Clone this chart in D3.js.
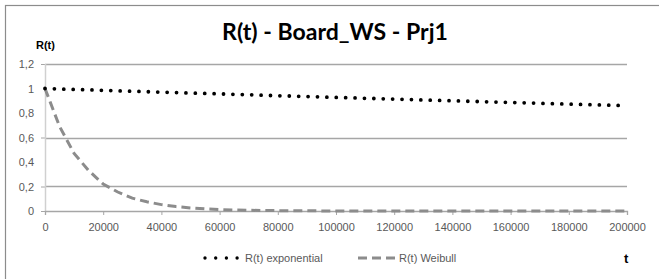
<!DOCTYPE html>
<html><head><meta charset="utf-8">
<script src="https://cdn.jsdelivr.net/npm/d3@7"></script>
<style>html,body{margin:0;padding:0;background:#fff;overflow:hidden}</style>
</head><body><svg id="c" width="659" height="279"></svg>
<script>
const title = "R(t) - Board_WS - Prj1";
const seriesNames = ["R(t) exponential", "R(t) Weibull"];
const tValues = [0,5000,10000,15000,20000,25000,30000,35000,40000,45000,50000,55000,60000,65000,70000,75000,80000,85000,90000,95000,100000,105000,110000,115000,120000,125000,130000,135000,140000,145000,150000,155000,160000,165000,170000,175000,180000,185000,190000,195000,200000];
const expValues = [1,0.996,0.992,0.989,0.985,0.981,0.978,0.974,0.970,0.967,0.963,0.960,0.956,0.952,0.949,0.945,0.941,0.938,0.934,0.931,0.927,0.924,0.920,0.917,0.913,0.910,0.906,0.903,0.900,0.896,0.893,0.889,0.886,0.883,0.879,0.876,0.873,0.869,0.866,0.863,0.860];
const weibullValues = [1,0.69,0.47,0.33,0.22,0.155,0.105,0.075,0.052,0.036,0.025,0.017,0.012,0.008,0.006,0.004,0.003,0.002,0.0015,0.001,0.0007,0.0005,0.0003,0.0002,0.0002,0.0001,0.0001,0,0,0,0,0,0,0,0,0,0,0,0,0,0];
const xTicks = [0,20000,40000,60000,80000,100000,120000,140000,160000,180000,200000];
const yTicks = [0,0.2,0.4,0.6,0.8,1,1.2];
const visibleGrid = [0.2,0.6,1.2];

const svg = d3.select("#c");
const font = "'Liberation Sans', Arial, sans-serif";
const lab = "#595959";

svg.append("rect").attr("x",5.5).attr("y",5.5).attr("width",700).attr("height",300)
  .attr("fill","#fff").attr("stroke","#8c8c8c").attr("stroke-width",1.2);

const x = d3.scaleLinear().domain([0,200000]).range([45,627]);
const y = d3.scaleLinear().domain([0,1.2]).range([211,64]);

// y tick labels and short ticks
const yAxis = d3.axisLeft(y).tickValues(yTicks).tickSize(4).tickPadding(7)
  .tickFormat(d => d3.format(",")(d).replace(".", ","));
const gy = svg.append("g").attr("transform","translate(45,0)").call(yAxis);
gy.select(".domain").remove();
gy.selectAll(".tick line").attr("stroke","#a6a6a6").attr("stroke-width",1)
  .attr("opacity", d => visibleGrid.includes(d) || d === 0 ? 1 : 0);
gy.selectAll(".tick text").attr("font-family",font).attr("font-size",11).attr("fill",lab);

// gridlines
svg.append("g").selectAll("line").data(visibleGrid).join("line")
  .attr("x1",45).attr("x2",627).attr("y1",d=>Math.round(y(d))+0.5).attr("y2",d=>Math.round(y(d))+0.5)
  .attr("stroke","#a6a6a6").attr("stroke-width",1.3);

// y axis line
svg.append("line").attr("x1",45.5).attr("x2",45.5).attr("y1",64).attr("y2",211)
  .attr("stroke","#d0d0d0").attr("stroke-width",1.5);

// x axis
const xAxis = d3.axisBottom(x).tickValues(xTicks).tickSize(4).tickPadding(8).tickFormat(d3.format("d"));
const gx = svg.append("g").attr("transform","translate(0,211)").call(xAxis);
gx.select(".domain").attr("stroke","#a6a6a6").attr("stroke-width",1.3);
gx.selectAll(".tick line").attr("stroke","#a6a6a6");
gx.selectAll(".tick text").attr("font-family",font).attr("font-size",11).attr("fill",lab);

const line = (vals) => d3.line().x((d,i)=>x(tValues[i])).y(d=>y(d))(vals);

svg.append("path").attr("d",line(weibullValues)).attr("fill","none")
  .attr("stroke","#8c8c8c").attr("stroke-width",3).attr("stroke-dasharray","9 5");
svg.append("path").attr("d",line(expValues)).attr("fill","none")
  .attr("stroke","#000").attr("stroke-width",3.8).attr("stroke-linecap","round").attr("stroke-dasharray","0 9.4");

// title, sized to the reference width
const tt = svg.append("text").attr("x",335).attr("y",40).attr("text-anchor","middle")
  .attr("font-family","Lato, 'Open Sans', sans-serif").attr("font-weight","bold").attr("font-size",19)
  .attr("fill","#000").text(title);
const w = tt.node().getComputedTextLength();
tt.attr("font-size", Math.min(24, 19 * 226 / w));

// axis titles
svg.append("text").attr("x",36).attr("y",49).attr("font-family",font).attr("font-weight","bold")
  .attr("font-size",11).attr("fill","#000").text("R(t)");
svg.append("text").attr("x",624).attr("y",263).attr("font-family",font).attr("font-weight","bold")
  .attr("font-size",13).attr("fill","#000").text("t");

// legend
const lg = svg.append("g");
lg.append("line").attr("x1",205).attr("x2",238).attr("y1",258).attr("y2",258)
  .attr("stroke","#000").attr("stroke-width",3.4).attr("stroke-linecap","round").attr("stroke-dasharray","0 10.7");
lg.append("text").attr("x",245).attr("y",262).attr("font-family",font).attr("font-size",11).attr("fill",lab).text(seriesNames[0]);
lg.append("line").attr("x1",358).attr("x2",395).attr("y1",258).attr("y2",258)
  .attr("stroke","#8c8c8c").attr("stroke-width",3).attr("stroke-dasharray","9 5");
lg.append("text").attr("x",399).attr("y",262).attr("font-family",font).attr("font-size",11).attr("fill",lab).text(seriesNames[1]);
</script></body></html>
